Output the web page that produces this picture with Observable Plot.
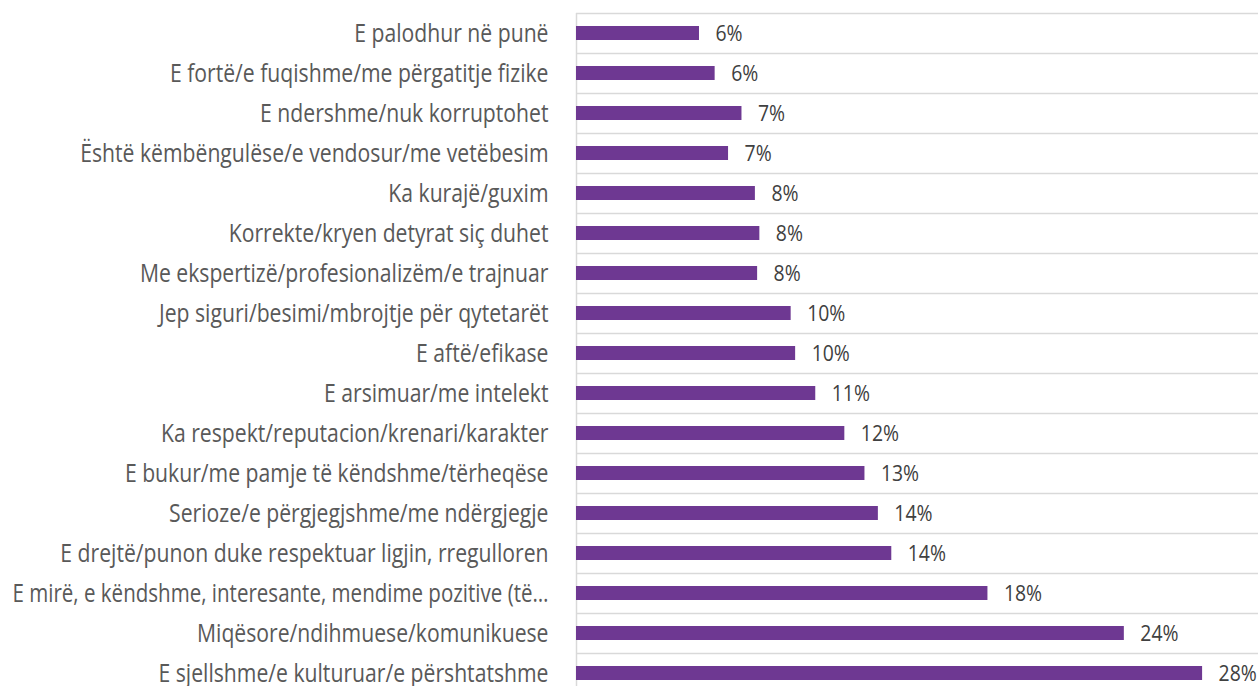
<!DOCTYPE html>
<html>
<head>
<meta charset="utf-8">
<script src="https://cdn.jsdelivr.net/npm/d3@7"></script>
<script src="https://cdn.jsdelivr.net/npm/@observablehq/plot@0.6"></script>
<style>
  html, body { margin: 0; padding: 0; background: #ffffff; }
  #chart { width: 1258px; height: 686px; overflow: hidden; }
</style>
</head>
<body>
<div id="chart"></div>
<script>
const categories = [
  "E palodhur në punë",
  "E fortë/e fuqishme/me përgatitje fizike",
  "E ndershme/nuk korruptohet",
  "Është këmbëngulëse/e vendosur/me vetëbesim",
  "Ka kurajë/guxim",
  "Korrekte/kryen detyrat siç duhet",
  "Me ekspertizë/profesionalizëm/e trajnuar",
  "Jep siguri/besimi/mbrojtje për qytetarët",
  "E aftë/efikase",
  "E arsimuar/me intelekt",
  "Ka respekt/reputacion/krenari/karakter",
  "E bukur/me pamje të këndshme/tërheqëse",
  "Serioze/e përgjegjshme/me ndërgjegje",
  "E drejtë/punon duke respektuar ligjin, rregulloren",
  "E mirë, e këndshme, interesante, mendime pozitive (të…",
  "Miqësore/ndihmuese/komunikuese",
  "E sjellshme/e kulturuar/e përshtatshme"
];
const values = [5.5, 6.2, 7.4, 6.8, 8.0, 8.2, 8.1, 9.6, 9.8, 10.7, 12.0, 12.9, 13.5, 14.1, 18.4, 24.5, 28.0];
const valueLabels = ["6%", "6%", "7%", "7%", "8%", "8%", "8%", "10%", "10%", "11%", "12%", "13%", "14%", "14%", "18%", "24%", "28%"];

const data = categories.map((c, i) => ({category: c, value: values[i], label: valueLabels[i]}));

const chart = Plot.plot({
  width: 1258,
  height: 686,
  marginLeft: 576,
  marginRight: 0,
  marginTop: 13,
  marginBottom: 0,
  style: {fontFamily: "'Open Sans', sans-serif", fontSize: "25px", color: "#595959", background: "#ffffff"},
  x: {domain: [0, 30.5], axis: null},
  y: {domain: categories, range: [13, 693], paddingInner: 0.65, paddingOuter: 0.325, label: null, axis: null},
  marks: [
    Plot.ruleY(data, {y: "category", dy: -20, stroke: "#d9d9d9", strokeWidth: 1.5}),
    Plot.ruleX([0], {stroke: "#d9d9d9", strokeWidth: 1.5}),
    Plot.barX(data, {y: "category", x: "value", fill: "#6e3892"}),
    Plot.text(data, {y: "category", x: "value", text: "label", textAnchor: "start", dx: 16, fontSize: 22, fill: "#404040", className: "value-label"}),
    Plot.axisY({tickSize: 0, tickPadding: 28, fontSize: 25.5, label: null, textOverflow: null})
  ]
});
document.getElementById("chart").appendChild(chart);

// Condense glyphs horizontally to mimic the narrow typeface of the original
const maxLabelLength = 536;
chart.querySelectorAll("text").forEach((t) => {
  const isValue = t.closest(".value-label") !== null;
  const condense = isValue ? 0.88 : 0.83;
  const w = t.getComputedTextLength();
  if (w > 0) {
    let len = w * condense;
    if (!isValue) len = Math.min(len, maxLabelLength);
    t.setAttribute("textLength", len.toFixed(1));
    t.setAttribute("lengthAdjust", "spacingAndGlyphs");
  }
});
</script>
</body>
</html>
